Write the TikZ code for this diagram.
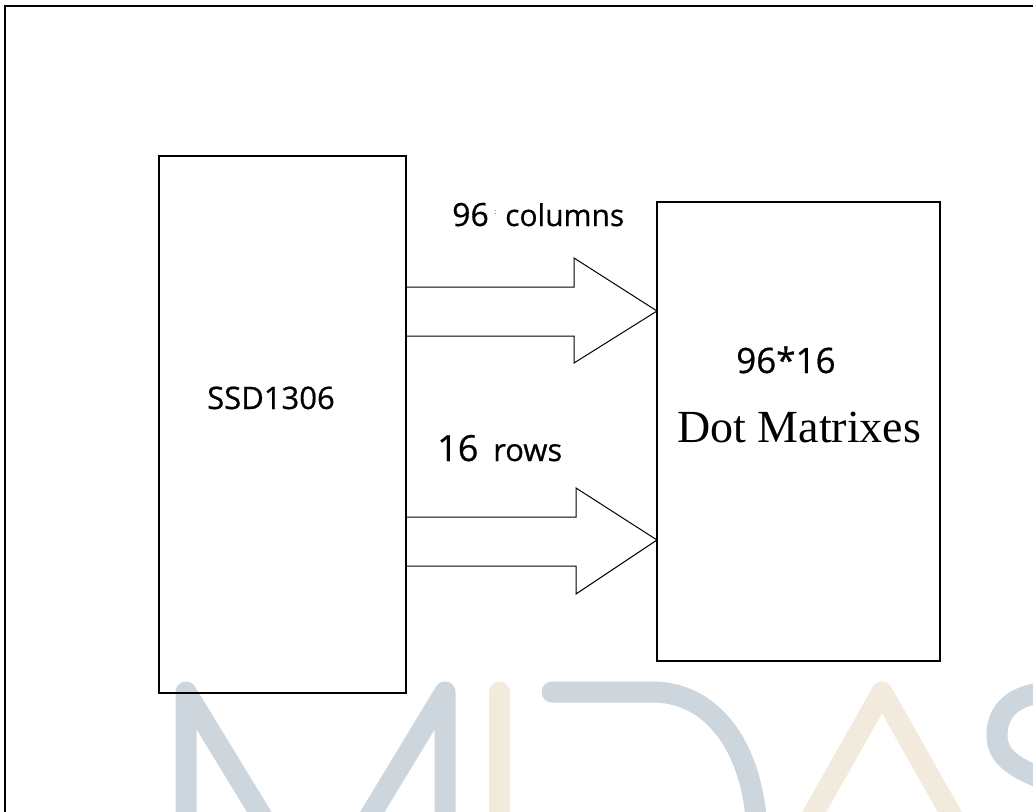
\documentclass[tikz,border=0pt]{standalone}
\usepackage{fontspec}
\newfontfamily\osans[FakeBold=0.6]{Open Sans}
\newfontfamily\tserif{Liberation Serif}
\definecolor{wmgray}{RGB}{205,214,221}
\definecolor{wmbeige}{RGB}{243,234,222}
\begin{document}
\begin{tikzpicture}[x=1pt,y=-1pt,
  box/.style={draw=black,line width=1.8pt,inner sep=0pt,outer sep=0pt},
  arrowline/.style={draw=black,line width=1pt,line join=miter},
  frame/.style={draw=black,line width=2pt},
  wm/.style={line width=21pt,line cap=round,line join=round},
  lbl/.style={inner sep=0pt,anchor=base west}]
\useasboundingbox (0,0) rectangle (1033,811);
\fill[white] (0,0) rectangle (1033,811);
% watermark
\draw[wm,wmgray] (186,900) -- (186,692) -- (316,905) -- (445,692) -- (445,900);
\draw[wm,wmbeige] (499,692) -- (499,840);
\draw[wm,wmgray] (552,692) -- (652,692) .. controls (720,692) and (757,760) .. (757,840);
\draw[wm,wmbeige] (804,830) -- (882,692) -- (960,830);
\draw[wm,wmgray] (1050,692) .. controls (1012,694) and (997,712) .. (997,735) .. controls (997,758) and (1015,768) .. (1050,782);
% frame
\draw[frame] (1040,6) -- (5,6) -- (5,820);
% boxes
\node[box,minimum width=247pt,minimum height=537pt,anchor=north west] (ssd) at (159,156) {};
\node[box,minimum width=283pt,minimum height=459pt,anchor=north west] (mat) at (657,202) {};
% arrows
\coordinate (a1t) at (0,287); \coordinate (a1b) at (0,336); \coordinate (a1m) at (0,311);
\coordinate (a2t) at (0,517); \coordinate (a2b) at (0,566); \coordinate (a2m) at (0,540);
\draw[arrowline] (ssd.east |- a1t) -- (574,287) -- (574,258) -- (mat.west |- a1m) -- (574,363) -- (574,336) -- (ssd.east |- a1b);
\draw[arrowline] (ssd.east |- a2t) -- (576,517) -- (576,488) -- (mat.west |- a2m) -- (576,594) -- (576,566) -- (ssd.east |- a2b);
% labels
\node[lbl] (ssdl) at (207,409) {\osans\fontsize{31}{31}\selectfont SSD1306};
\node[lbl] (n96) at (452,226) {\osans\fontsize{32}{32}\selectfont 96};
\node[lbl,text=gray] (dots) at (494,214) {\osans\fontsize{7}{7}\selectfont :};
\node[lbl] (cols) at (505,226) {\osans\fontsize{30}{30}\selectfont columns};
\node[lbl] (n16) at (437,461) {\osans\fontsize{36}{36}\selectfont 16};
\node[lbl] (rows) at (493,461) {\osans\fontsize{31}{31}\selectfont rows};
\node[lbl] (dim) at (736,373) {\osans\fontsize{35}{35}\selectfont 96*16};
\node[lbl] (dm) at (677,442) {\tserif\fontsize{46}{46}\selectfont Dot Matrixes};
\end{tikzpicture}
\end{document}
